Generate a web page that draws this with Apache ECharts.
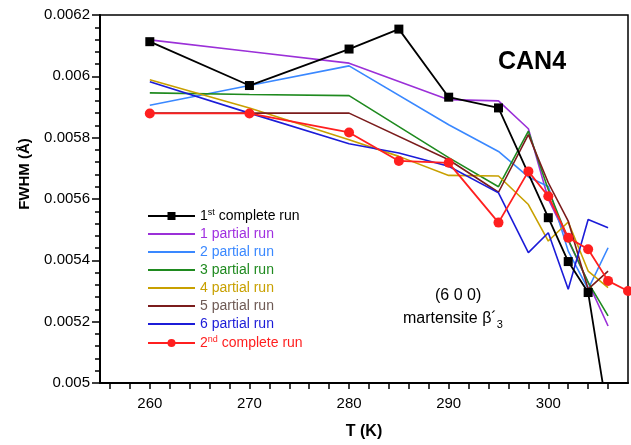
<!DOCTYPE html>
<html><head><meta charset="utf-8">
<script src="https://cdn.jsdelivr.net/npm/echarts@6/dist/echarts.min.js"></script>
<style>html,body{margin:0;padding:0;background:#fff}#c{width:631px;height:445px}</style>
</head><body><div id="c"></div>
<script>
// Series names
var seriesNames = ['1st complete run','1 partial run','2 partial run','3 partial run','4 partial run','5 partial run','6 partial run','2nd complete run'];
// Temperatures (K) per series
var tBlack  = [260,270,280,285,290,295,300,302,304,306];
var tP1     = [260,270,280,290,295,298,300,302,304,306];
var tP2     = [260,270,280,290,295,298,300,302,304,306];
var tP3     = [260,270,280,290,295,298,300,302,304,306];
var tP4     = [260,270,280,285,290,295,298,300,302,304,306];
var tP5     = [260,270,280,290,295,298,300,302,304,306];
var tP6     = [260,270,280,285,290,295,298,300,302,304,306];
var tRed    = [260,270,280,285,290,295,298,300,302,304,306,308];
// FWHM values (Å)
var fBlack  = [0.006113,0.005970,0.006089,0.006154,0.005932,0.005897,0.005539,0.005396,0.005295,0.00489];
var fP1     = [0.006119,0.006081,0.006043,0.005924,0.005920,0.005829,0.005600,0.005465,0.005328,0.005186];
var fP2     = [0.005906,0.005970,0.006034,0.005842,0.005755,0.005672,0.005641,0.005430,0.005306,0.005441];
var fP3     = [0.005946,0.005941,0.005937,0.005735,0.005640,0.005821,0.005630,0.005468,0.005328,0.005219];
var fP4     = [0.005989,0.005897,0.005793,0.005739,0.005677,0.005675,0.005582,0.005463,0.005525,0.005365,0.005311];
var fP5     = [0.005880,0.005880,0.005880,0.005728,0.005622,0.005810,0.005653,0.005528,0.005306,0.005365];
var fP6     = [0.005982,0.005880,0.005780,0.005750,0.005707,0.005620,0.005425,0.005490,0.005306,0.005533,0.005506];
var fRed    = [0.005879,0.005879,0.005817,0.005724,0.005718,0.005523,0.005690,0.005609,0.005474,0.005436,0.005333,0.005300];
// Axis labels
var xTickLabels = [260,270,280,290,300];
var xMinorTicks = [256,258,260,262,264,266,268,270,272,274,276,278,280,282,284,286,288,290,292,294,296,298,300,302,304,306];

var colors = ['#000000','#9b30d8','#3a88ff','#1f8a1f','#c8a000','#7b1c1c','#1c1cd8','#ff1f1f'];
var textColors = ['#000000','#a030e0','#3a88ff','#1f8a1f','#c8a000','#6e5a55','#1c1cd8','#ff1f1f'];
var temps = [tBlack,tP1,tP2,tP3,tP4,tP5,tP6,tRed];
var vals = [fBlack,fP1,fP2,fP3,fP4,fP5,fP6,fRed];

function pairs(t, v){ return t.map(function(x,i){ return [x, v[i]]; }); }

var FONT = 'Arial, "Liberation Sans", sans-serif';
var series = seriesNames.map(function(name, i){
  var s = {
    name: name, type: 'line', clip: true,
    data: pairs(temps[i], vals[i]),
    lineStyle: {color: colors[i], width: 1.6},
    itemStyle: {color: colors[i]},
    symbol: 'none',
    z: 2 + (i === 0 || i === 7 ? 5 : 0)
  };
  if (i === 0) { s.symbol = 'rect'; s.symbolSize = 9; s.lineStyle.width = 1.8; }
  if (i === 7) { s.symbol = 'circle'; s.symbolSize = 10; s.lineStyle.width = 1.8; }
  return s;
});

var legendRich = {
  sup: {fontSize: 9, fontFamily: FONT, verticalAlign: 'bottom', padding: [0,0,7,0]},
  n: {fontSize: 14, fontFamily: FONT}
};
var legendLabel = {
  '1st complete run': '{n|1}{sup|st}{n| complete run}',
  '2nd complete run': '{n|2}{sup|nd}{n| complete run}'
};

var chart = echarts.init(document.getElementById('c'), null, {renderer: 'canvas'});
chart.setOption({
  animation: false,
  backgroundColor: '#fff',
  grid: {left: 100, top: 15, width: 528, height: 368, show: true, borderColor: '#000', borderWidth: 1.5, backgroundColor: 'transparent'},
  xAxis: {
    type: 'value', min: 255, max: 308,
    axisLine: {show: true, lineStyle: {color: '#000', width: 2}},
    axisTick: {show: true, customValues: xMinorTicks, length: 6, inside: false, lineStyle: {color: '#000', width: 1.5}},
    axisLabel: {customValues: xTickLabels, fontSize: 15, color: '#000', fontFamily: FONT, margin: 13},
    splitLine: {show: false}
  },
  yAxis: {
    type: 'value', min: 0.005, max: 0.0062, interval: 0.0002,
    axisLine: {show: true, lineStyle: {color: '#000', width: 2}},
    axisTick: {show: true, length: 8, lineStyle: {color: '#000', width: 1.5}},
    minorTick: {show: true, splitNumber: 5, length: 5, lineStyle: {color: '#000', width: 1.5}},
    axisLabel: {fontSize: 15, color: '#000', fontFamily: FONT, margin: 10,
      formatter: function(v){ return String(parseFloat(v.toFixed(5))); }},
    splitLine: {show: false}
  },
  legend: {
    orient: 'vertical', left: 142, top: 203,
    itemWidth: 47, itemHeight: 10, itemGap: 4,
    data: seriesNames.map(function(n, i){
      var d = {name: n, textStyle: {color: textColors[i]}};
      if (i > 0 && i < 7) d.itemStyle = {opacity: 0};
      return d;
    }),
    formatter: function(n){ return legendLabel[n] || ('{n|' + n + '}'); },
    textStyle: {fontSize: 14, fontFamily: FONT, padding: [0,0,0,0], rich: legendRich}
  },
  graphic: [
    {type: 'text', left: 498, top: 50, style: {text: 'CAN4', fontSize: 25, fontWeight: 'bold', fontFamily: FONT, fill: '#000'}},
    {type: 'text', left: 435, top: 288, style: {text: '(6 0 0)', fontSize: 16, fontFamily: FONT, fill: '#000'}},
    {type: 'text', left: 403, top: 311, style: {text: 'martensite β´{sub|3}', fontSize: 16, fontFamily: FONT, fill: '#000',
      rich: {sub: {fontSize: 11, fontFamily: FONT, verticalAlign: 'top', padding: [12,0,0,0]}}}},
    {type: 'text', x: 25, y: 174, rotation: Math.PI/2, style: {text: 'FWHM (Å)', fontSize: 15, fontWeight: 'bold', fontFamily: FONT, fill: '#000', align: 'center', verticalAlign: 'middle'}},
    {type: 'text', x: 364, y: 432, style: {text: 'T (K)', fontSize: 16, fontWeight: 'bold', fontFamily: FONT, fill: '#000', align: 'center', verticalAlign: 'middle'}}
  ],
  series: series
});
</script></body></html>
